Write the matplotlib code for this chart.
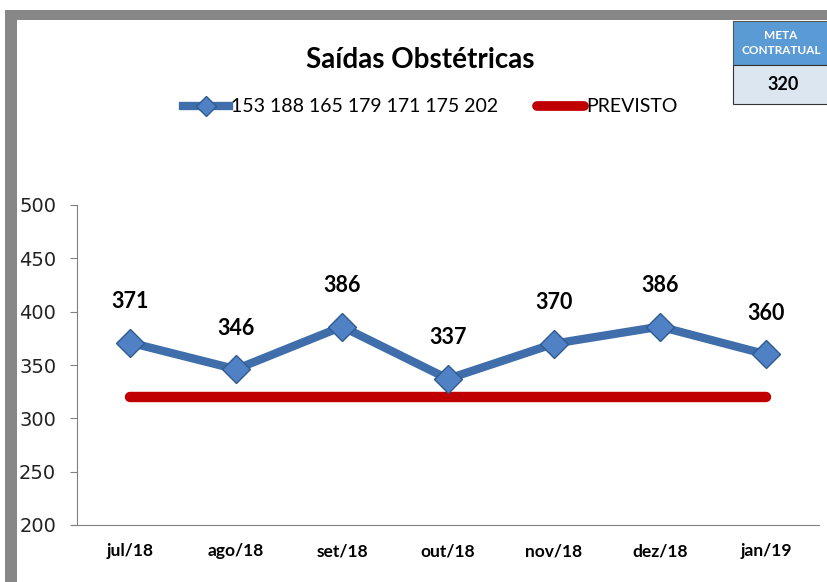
import matplotlib.pyplot as plt
from matplotlib.patches import Rectangle
from matplotlib.lines import Line2D

# Data
months = ['jul/18', 'ago/18', 'set/18', 'out/18', 'nov/18', 'dez/18', 'jan/19']
saidas = [371, 346, 386, 337, 370, 386, 360]
previsto = [320, 320, 320, 320, 320, 320, 320]
serie_label = '153 188 165 179 171 175 202'
meta = 320

plt.rcParams['font.family'] = ['Lato', 'DejaVu Sans']

W, H = 828, 582
fig = plt.figure(figsize=(W / 100, H / 100), dpi=100)
fig.patch.set_facecolor('white')

def fx(px):
    return px / W

def fy(py):
    return 1 - py / H

# gray frame (top and left)
fig.patches.append(Rectangle((fx(5), fy(20)), fx(828 - 5), 10 / H, transform=fig.transFigure,
                             facecolor='#878787', edgecolor='none', zorder=0))
fig.patches.append(Rectangle((fx(5), 0), 12 / W, fy(10), transform=fig.transFigure,
                             facecolor='#878787', edgecolor='none', zorder=0))

ax = fig.add_axes([fx(77), fy(525), fx(819 - 77), (525 - 205) / H])
x = list(range(len(months)))

ax.plot(x, previsto, color='#c00000', linewidth=7.5, solid_capstyle='round', zorder=2)
ax.plot(x, saidas, color='#3f6eab', linewidth=6, marker='D', markersize=14,
        markerfacecolor='#4f81c4', markeredgecolor='#2f5a92', markeredgewidth=1,
        solid_joinstyle='round', zorder=3)

for xi, v in zip(x, saidas):
    ax.annotate(str(v), (xi, v), xytext=(0, 22), textcoords='offset points',
                ha='center', va='bottom', fontsize=15.5, fontweight='bold', color='black')

ax.set_xlim(-0.5, 6.5)
ax.set_ylim(200, 500)
ax.set_yticks(range(200, 501, 50))
ax.set_xticks(x)
ax.set_xticklabels(months, fontsize=12.5, fontweight='bold')
ax.tick_params(axis='x', length=0, pad=13)
ax.tick_params(axis='y', length=5, color='#808080', pad=10)
for lbl in ax.get_yticklabels():
    lbl.set_family('DejaVu Sans')
    lbl.set_fontsize(14)
    lbl.set_color('#222222')
for s in ['top', 'right']:
    ax.spines[s].set_visible(False)
ax.spines['left'].set_color('#808080')
ax.spines['bottom'].set_color('#808080')
ax.spines['bottom'].set_bounds(-0.55, 6.5)

fig.text(fx(420), fy(60), 'Saídas Obstétricas', ha='center', va='center',
         fontsize=20, fontweight='bold')

handles = [Line2D([0], [0], color='#3f6eab', linewidth=6, marker='D', markersize=10,
                  markerfacecolor='#4f81c4', markeredgecolor='#2f5a92'),
           Line2D([0], [0], color='#c00000', linewidth=7, solid_capstyle='round')]
fig.legend(handles, [serie_label, 'PREVISTO'], loc='center', bbox_to_anchor=(fx(430), fy(107)),
           ncol=2, frameon=False, fontsize=14, handlelength=2.4, handletextpad=0.1,
           columnspacing=2.0)

# meta contratual box
fig.patches.append(Rectangle((fx(733), fy(65)), fx(828 - 733), 44 / H, transform=fig.transFigure,
                             facecolor='#5b9bd5', edgecolor='#555555', linewidth=0.8))
fig.patches.append(Rectangle((fx(733), fy(104)), fx(828 - 733), 39 / H, transform=fig.transFigure,
                             facecolor='#dce6f1', edgecolor='#333333', linewidth=0.8))
fig.text(fx(781), fy(43), 'META\nCONTRATUAL', ha='center', va='center', fontsize=8.5,
         fontweight='bold', color='white', linespacing=1.4)
fig.text(fx(783), fy(85), str(meta), ha='center', va='center', fontsize=13, fontweight='bold')

fig.savefig('out.png', dpi=100)
